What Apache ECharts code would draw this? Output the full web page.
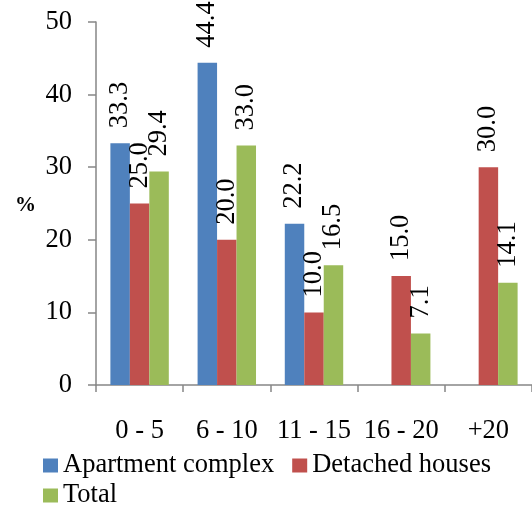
<!DOCTYPE html>
<html>
<head>
<meta charset="utf-8">
<script src="https://cdn.jsdelivr.net/npm/echarts@6/dist/echarts.min.js"></script>
<style>
  html, body { margin: 0; padding: 0; background: #fff; }
  #chart { width: 532px; height: 510px; }
</style>
</head>
<body>
<div id="chart"></div>
<script>
// Age groups (years) and share of buildings in each, in percent
const categories = ['0 - 5', '6 - 10', '11 - 15', '16 - 20', '+20'];
const apartmentComplex = [33.3, 44.4, 22.2, null, null];
const detachedHouses = [25.0, 20.0, 10.0, 15.0, 30.0];
const total = [29.4, 33.0, 16.5, 7.1, 14.1];
const yTicks = { min: 0, max: 50, interval: 10 };

const FONT = '"Liberation Serif", "Times New Roman", serif';
const FS = 26.5;
const AXIS_GREY = '#868686';

const valueLabel = {
  show: true,
  position: 'top',
  rotate: 90,
  align: 'left',
  verticalAlign: 'middle',
  distance: 15,
  fontFamily: FONT,
  fontSize: FS,
  color: '#000',
  formatter: p => (p.value == null ? '' : Number(p.value).toFixed(1))
};

function barSeries(name, data, color) {
  return {
    name: name,
    type: 'bar',
    data: data,
    barGap: '0%',
    barCategoryGap: '33%',
    itemStyle: { color: color },
    label: valueLabel
  };
}

const legendText = { fontFamily: FONT, fontSize: FS, color: '#000' };

const chart = echarts.init(document.getElementById('chart'), null, { renderer: 'canvas' });
chart.setOption({
  animation: false,
  backgroundColor: '#fff',
  grid: { left: 96, top: 22, width: 440, height: 363, containLabel: false },
  graphic: [{
    type: 'text',
    left: 15,
    top: 195,
    style: { text: '%', fontFamily: FONT, fontSize: 21, fontWeight: 'bold', fill: '#000' }
  }],
  legend: [
    {
      data: ['Apartment complex', 'Detached houses'],
      left: 43, top: 452, padding: 0,
      itemWidth: 15, itemHeight: 14, itemGap: 18,
      icon: 'rect',
      textStyle: legendText,
      selectedMode: false
    },
    {
      data: ['Total'],
      left: 43, top: 482, padding: 0,
      itemWidth: 15, itemHeight: 14,
      icon: 'rect',
      textStyle: legendText,
      selectedMode: false
    }
  ],
  xAxis: {
    type: 'category',
    data: categories,
    axisLine: { lineStyle: { color: AXIS_GREY, width: 1.5 } },
    axisTick: { show: true, length: 7, alignWithLabel: false, lineStyle: { color: AXIS_GREY, width: 1.5 } },
    axisLabel: { fontFamily: FONT, fontSize: FS, color: '#000', margin: 33, interval: 0 },
    splitLine: { show: false }
  },
  yAxis: {
    type: 'value',
    min: yTicks.min,
    max: yTicks.max,
    interval: yTicks.interval,
    axisLine: { show: true, lineStyle: { color: AXIS_GREY, width: 1.5 } },
    axisTick: { show: true, inside: false, length: 8, lineStyle: { color: AXIS_GREY, width: 1.5 } },
    axisLabel: { fontFamily: FONT, fontSize: FS, color: '#000', margin: 24 },
    splitLine: { show: false }
  },
  series: [
    barSeries('Apartment complex', apartmentComplex, '#4F81BD'),
    barSeries('Detached houses', detachedHouses, '#C0504D'),
    barSeries('Total', total, '#9BBB59')
  ]
});
</script>
</body>
</html>
